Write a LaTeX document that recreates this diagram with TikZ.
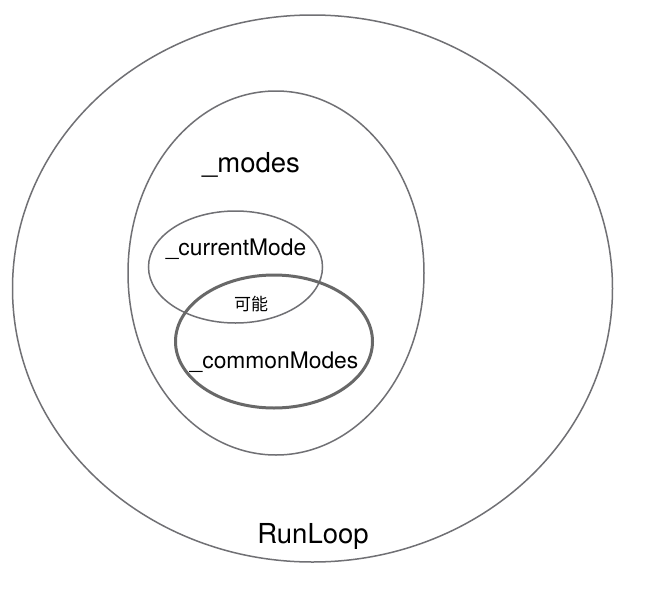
\documentclass[tikz,border=0pt]{standalone}
\usepackage{fontspec}
\setmainfont{TeX Gyre Heros}
\newfontfamily\cjk{Noto Sans CJK SC}
\definecolor{ringgray}{RGB}{112,112,116}
\definecolor{penciled}{RGB}{104,104,104}
\tikzset{
  ring/.style={draw=ringgray, line width=1.5pt},
  pencil/.style={draw=penciled, line width=3pt},
  biglabel/.style={font=\fontsize{27.5}{32}\selectfont, anchor=base, inner sep=0pt},
  smalllabel/.style={font=\fontsize{22.8}{26}\selectfont, anchor=base, inner sep=0pt}
}
\begin{document}
\begin{tikzpicture}[x=1pt, y=-1pt]
            \useasboundingbox[fill=white] (0,0) rectangle (670,595);
            \draw[ring]
            (312.5,288.5) ellipse [x radius=300, y radius=273.5]
            (276,273) ellipse [x radius=148, y radius=182]
            (235.5,267) ellipse [x radius=87, y radius=56];
            \draw[pencil] (274,341.5) ellipse [x radius=98.5, y radius=66.5];
            \node[biglabel](modes) at (251,172) {\_modes};
            \node[smalllabel](cur) at (236,255) {\_currentMode};
            \node[inner sep=0pt, font=\cjk\fontsize{17}{20}\selectfont](maybe) at (251,304.5) {可能};
            \node[smalllabel](common) at (274,368) {\_commonModes};
            \node[biglabel](loop) at (313,543) {RunLoop};
        \end{tikzpicture}
\end{document}
